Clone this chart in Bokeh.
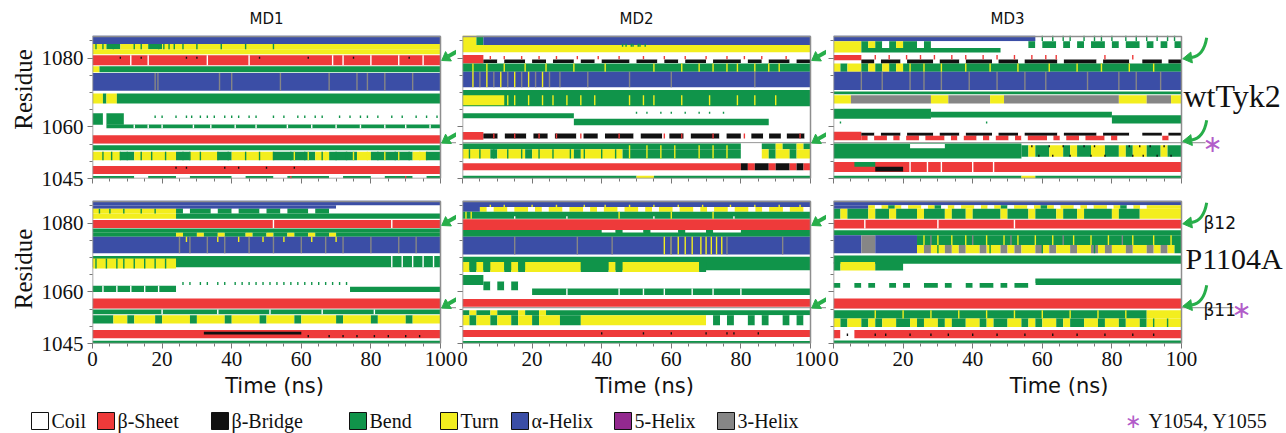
import math
from bokeh.plotting import figure
from bokeh.layouts import row, column
from bokeh.models import Range1d, FixedTicker, ColumnDataSource
from bokeh.core.properties import value
from bokeh.embed import file_html
from bokeh.resources import INLINE

# ---------------- data ----------------
STATE_CODES = ["C", "E", "B", "S", "T", "H", "I", "G"]
STATE_NAMES = ["Coil", "β-Sheet", "β-Bridge", "Bend", "Turn", "α-Helix", "5-Helix", "3-Helix"]
STATE_COLORS = ["#ffffff", "#ee3a3a", "#111111", "#10944a", "#f3ee1e", "#3b4ea6", "#93298f", "#868686"]

RUN_TITLES = ["MD1", "MD2", "MD3"]
SYSTEM_NAMES = ["wtTyk2", "P1104A"]
STRAND_LABELS = ["β12", "β11"]
MARK_NOTE = "Y1054, Y1055"

T_MAX = 100
RES_MIN = 1045
RES_TOP = 1086.3
RES_TICKS = [1045, 1060, 1080]
RES_MINOR = [1045, 1050, 1055, 1060, 1065, 1070, 1075, 1080, 1085]
TIME_TICKS = [0, 20, 40, 60, 80, 100]
TIME_MINOR = [0, 5, 10, 15, 20, 25, 30, 35, 40, 45, 50, 55, 60, 65, 70, 75, 80, 85, 90, 95, 100]
ARROW_RES = [1079.3, 1055.3]
MARK_RES = 1055.4

# bands: (residue_low, residue_high, time pattern); "." = nothing, "X:d" = state X for d ns,
# a multi-letter token spreads its letters evenly over its duration
WT_MD1 = [
    (1084.1, 1086.5, "H:100"),
    (1082.6, 1084.1, "TSTTSTTTTTTTTTTTTTTTTTTTT"),
    (1081.1, 1082.6, "T:100"),
    (1077.9, 1080.8, "E:100"),
    (1075.9, 1077.6, "T:2 S:98"),
    (1070.5, 1075.7, "H:100"),
    (1066.8, 1069.7, "T:3 S:1 T:3 S:93"),
    (1060.6, 1064.0, "S:3 C:1 S:5 .:91"),
    (1059.6, 1060.7, ".:4 S:96"),
    (1055.2, 1057.6, "E:100"),
    (1053.2, 1054.7, "S:100"),
    (1050.3, 1052.8, "TTSTTTSTTSTTTSSSTSSTSSSTS"),
    (1046.3, 1048.6, "E:100"),
    (1045.0, 1045.7, "SSSCSSCSSSCSSCSSSCSSCSSCS"),
]
WT_MD1_FLICK = [
    ("S", 1082.6, 1084.1, [1, 3, 6, 12, 14, 19, 20.5, 22, 23.5, 26, 30, 37, 44, 52]),
    ("G", 1070.5, 1075.7, [18, 18.8, 36.5, 40, 54, 68, 76, 79, 84, 92]),
    ("C", 1077.9, 1080.8, [11, 16, 33, 45, 69, 72, 80, 88, 95]),
    ("B", 1079.8, 1080.4, [8, 14, 27, 30, 48, 62, 75, 91]),
    ("S", 1062.6, 1063.3, [18, 20, 24, 27, 28.5, 31, 33, 35, 38, 40, 42, 45, 47, 52, 55, 59, 61, 64, 66, 71, 74, 77, 79, 82, 86, 89, 93, 96, 99]),
    ("C", 1059.6, 1060.7, [12, 16, 20, 29, 34, 41, 47, 56, 63, 70, 77, 84, 90, 97]),
    ("S", 1050.3, 1052.8, [3, 5.5, 8, 10, 14, 17, 21, 26, 28, 31, 36, 39, 44, 48, 52, 57, 61, 66, 70, 73, 82, 87, 91, 96]),
    ("T", 1050.3, 1052.8, [58, 62, 67, 75, 79, 84, 88, 94]),
    ("B", 1047.8, 1048.4, [24, 27, 38, 42, 50, 58]),
    ("E", 1045.0, 1045.7, [57, 90]),
]

WT_MD2 = [
    (1083.8, 1086.5, "T:4 S:2 H:94"),
    (1081.7, 1083.8, "T:100"),
    (1078.4, 1080.9, "E:6 .:94"),
    (1078.6, 1079.6, ".:6 BBCBBBCBBCBBBCBBCBBBBCBBBCBBCBBBCBBBBCBBCBBBCBB:94"),
    (1076.0, 1078.4, "S:100"),
    (1071.5, 1076.0, "H:100"),
    (1066.0, 1070.7, "S:100"),
    (1066.3, 1069.2, "T:12 .:88"),
    (1062.5, 1064.0, "S:32 .:68"),
    (1060.5, 1062.4, ".:32 S:56 .:12"),
    (1056.3, 1058.5, "E:6 .:94"),
    (1056.6, 1058.1, ".:6 BBCBBBCBBCBBBCBBCBBBBCBBBCBBCBBBBCBB:74 C:3 BBCBBCBBBC:17"),
    (1053.5, 1055.2, "S:80 C:6 S:4 T:2 S:4 T:2 S:2"),
    (1050.8, 1053.5, "TTTTSTTTTSTTTTTTSTTTTTT:46 S:34 C:6 TSTTSTT:14"),
    (1047.4, 1049.4, "E:80 B:2 E:2 B:4 E:2 B:4 E:2 B:2 E:2"),
    (1045.0, 1045.8, "S:50 T:5 S:45"),
]
WT_MD2_FLICK = [
    ("S", 1083.3, 1084.2, [46, 47, 48.5, 49, 50.5, 51, 52.5]),
    ("E", 1079.7, 1080.6, [8, 12, 17, 22, 27, 33, 39, 45, 52, 58, 64, 70, 76, 81, 86, 93]),
    ("T", 1076.0, 1078.4, [3, 7, 12, 18, 24, 32, 41, 55, 63, 68, 72, 76, 79, 84, 88, 91]),
    ("G", 1071.5, 1076.0, [5, 9, 13, 17, 21, 25, 28, 36, 48, 60, 84]),
    ("T", 1071.5, 1076.0, [3, 7, 11, 15, 19, 23]),
    ("T", 1066.3, 1069.2, [13, 15, 19, 23, 26, 30, 34, 38, 48, 52, 55, 63, 71, 79, 84, 90]),
    ("S", 1063.8, 1064.4, [50, 53, 57, 60, 64, 68, 71, 75]),
    ("E", 1056.6, 1058.1, [9, 15, 22, 27, 34, 45, 58, 63, 72, 81, 97]),
    ("S", 1050.8, 1053.5, [2, 5, 9, 13, 17, 22, 26, 31, 35, 40, 44]),
    ("T", 1050.8, 1054.7, [48, 53, 57, 61, 68, 72, 76]),
]

WT_MD3 = [
    (1084.9, 1086.5, "H:58 .:42"),
    (1082.9, 1084.9, "T:8 STSCSTSSCS:20 C:28 SCSSCSCSCSSCSCSSCSCSCS:44"),
    (1081.6, 1082.9, "T:8 S:40 .:52"),
    (1079.4, 1080.9, "E:8 .:92"),
    (1078.4, 1079.6, ".:8 BBCBBBCBBBBCBBBCBBBBCBBBCBBBBBCBBBBBCBBBBCCBBBCBB:92"),
    (1076.0, 1078.4, "T:2 S:2 T:4 S:2 T:2 S:2 T:2 S:2 T:2 S:80"),
    (1070.7, 1076.0, "H:100"),
    (1069.5, 1070.3, "S:100"),
    (1066.8, 1069.2, "T:5 G:23 T:5 G:12 T:4 G:33 T:8 G:7 T:3"),
    (1062.4, 1065.3, "S:28 .:72"),
    (1062.7, 1064.4, ".:28 S:52 .:20"),
    (1061.0, 1063.4, ".:80 S:20"),
    (1056.1, 1058.6, "E:8 .:92"),
    (1057.4, 1058.3, ".:8 BBCBBBCBBBBCBBBCBBBBCBBBCBBBBBCBBBBBCBBBBCCBBBCBB:92"),
    (1056.1, 1057.4, ".:8 ECEECECEECEEECECEECECEECECEEECECEECEEECECCCCCCCECC:92"),
    (1050.8, 1055.2, "S:54 .:46"),
    (1053.8, 1055.0, ".:22 C:10 .:68"),
    (1051.3, 1054.7, ".:54 STSSTTSTSSTTSSTSTTSSTSS:46"),
    (1046.9, 1049.8, "E:100"),
    (1047.0, 1048.4, ".:12 B:8 .:80"),
    (1048.4, 1049.8, ".:6 S:6 .:88"),
    (1045.0, 1045.8, "S:54 T:4 S:42"),
]
WT_MD3_FLICK = [
    ("S", 1085.0, 1086.5, [60, 63, 66, 68, 72, 75, 77, 80, 84, 87, 90, 93, 96, 98]),
    ("E", 1079.6, 1080.9, [12, 16, 21, 25, 29, 34, 38, 43, 47, 52, 57, 61, 64, 78, 86]),
    ("G", 1070.7, 1076.0, [8, 14, 22, 26, 31, 39, 47, 55, 61, 73, 82, 87, 94]),
    ("T", 1076.0, 1078.4, [22, 26, 31, 38, 45, 53, 62, 70, 77, 85, 92]),
    ("B", 1054.1, 1054.7, [57, 62, 66, 72, 75, 85, 88, 91, 95]),
    ("B", 1051.3, 1051.9, [59, 63, 68, 74, 78, 86, 89, 93, 97]),
    ("S", 1061.0, 1061.6, [2, 44]),
    ("C", 1046.9, 1049.8, [22, 27, 31, 40, 46]),
]

MUT_MD1 = [
    (1085.1, 1086.5, "H:100"),
    (1084.2, 1085.1, "H:70 C:30"),
    (1082.8, 1084.2, "T:24 SCSSSCSSCSSSCSSCSSSCSSC:46 C:30"),
    (1081.3, 1082.8, "T:24 S:76"),
    (1078.6, 1080.9, "E:100"),
    (1077.2, 1078.4, "S:100"),
    (1076.0, 1077.2, "S:24 TSSTSSTSSSTSSTSSTSSTSST:46 S:30"),
    (1071.2, 1076.0, "H:100"),
    (1067.2, 1070.4, "S:100"),
    (1066.8, 1069.7, "T:24 .:76"),
    (1060.0, 1061.8, "S:24 .:76"),
    (1060.0, 1061.5, ".:74 S:26"),
    (1055.2, 1058.1, "E:100"),
    (1053.5, 1054.9, "S:100"),
    (1050.8, 1053.2, "SSSTTSTTTSTTTTSTTTTSTTTTSTTTTSTTTTTSTTTTSTTTTSTTTT"),
    (1046.5, 1048.9, "E:100"),
    (1047.6, 1048.4, ".:32 B:28 .:40"),
    (1045.0, 1045.8, "S:100"),
]
MUT_MD1_FLICK = [
    ("S", 1082.8, 1084.2, [2, 5, 9, 14, 18]),
    ("C", 1078.6, 1080.9, [52, 86]),
    ("G", 1071.2, 1076.0, [25, 28, 33, 38, 45, 52, 60, 67, 72, 80, 88, 93]),
    ("T", 1074.5, 1076.0, [27, 36, 42, 49, 55, 63, 70]),
    ("S", 1066.8, 1069.7, [1, 4, 7, 9, 12, 15, 18, 21]),
    ("S", 1062.0, 1062.9, [26, 28, 31, 33, 36, 38, 41, 43, 45, 47, 49, 51, 53, 55, 57, 59, 61, 63, 65, 67, 69, 71, 73]),
    ("C", 1060.0, 1061.8, [3, 7, 11, 15, 19]),
    ("C", 1053.5, 1054.9, [20, 36, 51, 66, 81]),
    ("B", 1046.8, 1047.5, [62, 68, 72, 76, 81, 85, 90, 94]),
    ("C", 1067.2, 1070.4, [86, 89, 92, 95, 98]),
]

MUT_MD2 = [
    (1084.7, 1086.5, "H:100"),
    (1083.3, 1084.7, "H:5 TCTTCTTCTCTTCTTCTCTTCTTCTCTTCTTCTCTTCTTCTCTTCTTC:95"),
    (1081.3, 1083.3, "S:100"),
    (1078.0, 1081.1, "E:100"),
    (1076.0, 1078.0, "S:100"),
    (1077.3, 1078.0, ".:40 CCSCCCSCCCCSCCCSCCCC:40 .:20"),
    (1070.9, 1076.0, "H:100"),
    (1066.3, 1070.2, "S:100"),
    (1065.8, 1068.7, "TSTSTTSTSTTTTTTTTSSSSTSTTTTTTTTTTTS:70 .:30"),
    (1062.0, 1064.9, "S:6 .:94"),
    (1060.5, 1063.0, ".:6 SCSCSCC:14 .:80"),
    (1059.1, 1061.0, ".:20 S:80"),
    (1055.7, 1057.9, "E:100"),
    (1053.2, 1054.7, "STSSTSSSTSSTSS:28 S:72"),
    (1050.3, 1053.2, "TSTTSTTSTTSTTT:28 S:6 T:36 CSCSCCSCSCCSCSC:30"),
    (1046.9, 1048.9, "E:100"),
    (1045.0, 1045.7, "S:100"),
]
MUT_MD2_FLICK = [
    ("T", 1084.7, 1085.3, [8, 12, 20, 27, 35, 41, 48, 55, 62, 69, 77, 84, 91, 97]),
    ("T", 1081.3, 1083.3, [1, 2.5, 45, 60, 72]),
    ("C", 1081.3, 1082.0, [15, 30, 55, 78]),
    ("T", 1070.9, 1076.0, [58, 60, 62, 64, 66, 68.5, 70, 71.5, 73, 74.5]),
    ("G", 1070.9, 1076.0, [15, 33, 43, 60, 76, 92]),
    ("C", 1059.1, 1061.0, [30, 45, 52, 58, 66, 72, 80]),
    ("B", 1047.6, 1048.3, [40, 52, 60, 70, 76, 78, 85]),
]

MUT_MD3 = [
    (1085.2, 1086.5, "H:100"),
    (1084.2, 1085.2, "H:10 TCTSTCTTCTSCTCTTCTCTSCTTCTSTCTTCTCTTCTSCTC:80 T:10"),
    (1081.3, 1084.2, "STSSSTSSTSSSTSSSTSSTSSSSTSSSTSSSTSSTSSSSTSSST:90 T:10"),
    (1078.4, 1081.0, "E:100"),
    (1076.5, 1077.9, "S:100"),
    (1073.6, 1076.5, "H:8 G:4 H:12 S:76"),
    (1071.2, 1073.6, "H:8 G:4 H:12 TGTTGTGTTGTTGTGTTGTGTTGTTGTGTTGTTGTGTS:76"),
    (1068.2, 1070.6, "S:100"),
    (1066.2, 1068.7, "S:2 T:10 S:8 .:80"),
    (1062.0, 1063.9, ".:58 S:42"),
    (1061.2, 1062.6, "SCCSCSCCSCSCCSSCSCCSCSSCSCSSC:58 .:42"),
    (1055.2, 1058.1, "E:100"),
    (1052.3, 1054.7, "S:90 T:10"),
    (1049.8, 1052.3, "TSTTSTSTTSSTSTTSTSSTTSTSSTTSTSTTSTSSTTSTTSTTS:90 T:10"),
    (1046.5, 1048.9, "E:2 C:4 E:94"),
    (1045.0, 1045.9, "S:100"),
]
MUT_MD3_FLICK = [
    ("T", 1073.6, 1076.5, [26, 30, 34, 38, 44, 49, 53, 58, 63, 69, 74, 79, 86, 92, 97]),
    ("G", 1073.6, 1076.5, [28, 40, 51, 66, 83]),
    ("S", 1071.2, 1073.6, [30, 45, 60, 75]),
    ("C", 1078.4, 1081.0, [9, 30, 52]),
    ("B", 1047.2, 1047.9, [4, 12, 15, 22, 28, 33, 40, 47, 55, 63, 70, 78, 86, 92]),
    ("T", 1052.3, 1054.7, [12, 20, 28, 36, 44, 52, 60, 68, 76, 84]),
    ("S", 1049.8, 1052.3, [92, 96]),
]

PANELS = [
    [(WT_MD1, WT_MD1_FLICK), (WT_MD2, WT_MD2_FLICK), (WT_MD3, WT_MD3_FLICK)],
    [(MUT_MD1, MUT_MD1_FLICK), (MUT_MD2, MUT_MD2_FLICK), (MUT_MD3, MUT_MD3_FLICK)],
]

# ---------------- layout / style (pixel positions of the picture) ----------------
TOTAL_W = 1284
PX_NS = 3.48
PX_RES = 3.44
FRAME_W = [364, 364, 451]
BORDER_L = [92, 6, 7]
PANEL_LEFT_PAGE = [92, 462, 833]
FRAME_H = [178, 149]
BORDER_B = [13, 64]
SEP_H = 3
FRAME_BOTTOM_PAGE = [178, 343]
LEGEND_H = 26
GREEN_ARROW = "#27ae4a"
MARK_COLOR = "#b25cc9"
CODE_COLOR = dict(zip(STATE_CODES, STATE_COLORS))
SERIF = "Liberation Serif"
SANS = "DejaVu Sans"


def res_at(r, page_y):
    return RES_MIN + (FRAME_BOTTOM_PAGE[r] - page_y) / PX_RES


def ns_at(c, page_x):
    return (page_x - PANEL_LEFT_PAGE[c]) / PX_NS


def expand(pattern):
    if ":" in pattern:
        parts = []
        for tok in pattern.split():
            chars, d = tok.rsplit(":", 1)
            parts.append((chars, float(d)))
    else:
        parts = [(pattern, float(T_MAX))]
    total = sum(d for _, d in parts)
    segs, t = [], 0.0
    for chars, d in parts:
        d = d * T_MAX / total
        step = d / len(chars)
        for ch in chars:
            if segs and segs[-1][0] == ch:
                segs[-1][2] = t + step
            else:
                segs.append([ch, t, t + step])
            t += step
    return segs


def cell_source(bands, flicks):
    L, R, B, T, C = [], [], [], [], []
    for lo, hi, pat in bands:
        for ch, a, b in expand(pat):
            if ch == ".":
                continue
            L.append(a); R.append(b); B.append(lo); T.append(hi); C.append(CODE_COLOR[ch])
    for ch, lo, hi, times in flicks:
        for t in times:
            L.append(max(0, t - 0.2)); R.append(min(T_MAX, t + 0.2)); B.append(lo); T.append(hi)
            C.append(CODE_COLOR[ch])
    return ColumnDataSource(dict(left=L, right=R, bottom=B, top=T, color=C))


def draw_arrow(p, tip_x, tip_y, tail, ctrl, width, head_len, head_w):
    def to_data(dx, dy):
        return tip_x + dx / PX_NS, tip_y - dy / PX_RES
    ux, uy = -ctrl[0], -ctrl[1]
    n = math.hypot(ux, uy)
    ux, uy = ux / n, uy / n
    base = (-ux * head_len, -uy * head_len)
    perp = (-uy, ux)
    c1 = (base[0] + perp[0] * head_w, base[1] + perp[1] * head_w)
    c2 = (base[0] - perp[0] * head_w, base[1] - perp[1] * head_w)
    x0, y0 = to_data(*tail)
    cx, cy = to_data(*ctrl)
    x1, y1 = to_data(*base)
    p.quadratic(x0=[x0], y0=[y0], x1=[x1], y1=[y1], cx=[cx], cy=[cy],
                line_color=GREEN_ARROW, line_width=width)
    hx = [tip_x, to_data(*c1)[0], to_data(*c2)[0]]
    hy = [tip_y, to_data(*c1)[1], to_data(*c2)[1]]
    p.patch(hx, hy, fill_color=GREEN_ARROW, line_color=GREEN_ARROW, line_width=1)


def add_text(p, x, y, txt, font, size, color="#111111", align="left"):
    p.text(x=[x], y=[y], text=[txt], text_font=value(font), text_font_size=size,
           text_color=color, text_align=align, text_baseline="middle")


def hide_labels(ax):
    ax.major_label_text_color = None
    ax.major_label_text_font_size = "1px"
    ax.major_label_standoff = 0


def make_panel(r, c):
    bands, flicks = PANELS[r][c]
    fw, fh = FRAME_W[c], FRAME_H[r]
    x_end = fw / PX_NS
    p = figure(width=BORDER_L[c] + fw, height=fh + BORDER_B[r],
               x_range=Range1d(0, x_end), y_range=Range1d(RES_MIN, RES_MIN + fh / PX_RES),
               output_backend="svg", toolbar_location=None,
               min_border_left=BORDER_L[c], min_border_right=0, min_border_top=0,
               min_border_bottom=BORDER_B[r], outline_line_color=None,
               background_fill_color="white", border_fill_color="white")
    p.grid.visible = False
    xa, ya = p.xaxis[0], p.yaxis[0]
    xa.ticker = FixedTicker(ticks=TIME_TICKS, minor_ticks=TIME_MINOR)
    ya.ticker = FixedTicker(ticks=RES_TICKS, minor_ticks=RES_MINOR)
    for ax in (xa, ya):
        ax.axis_line_color = None
        ax.major_tick_line_color = "#777777"
        ax.minor_tick_line_color = "#777777"
        ax.major_tick_out = 5
        ax.major_tick_in = 0
        ax.minor_tick_out = 3
        ax.minor_tick_in = 0
        ax.major_label_text_font = SERIF
        ax.major_label_text_font_size = "21px"
        ax.major_label_text_color = "#111111"
    if r == 0:
        hide_labels(xa)
    else:
        xa.major_label_standoff = 3
        xa.axis_label = "Time (ns)"
        xa.axis_label_text_font = SANS
        xa.axis_label_text_font_size = "21px"
        xa.axis_label_text_font_style = "normal"
        xa.axis_label_text_color = "#111111"
        xa.axis_label_standoff = 5
    if c > 0:
        hide_labels(ya)
    else:
        ya.major_label_standoff = 4
        ya.axis_label = "Residue"
        ya.axis_label_text_font = SERIF
        ya.axis_label_text_font_size = "25px"
        ya.axis_label_text_font_style = "normal"
        ya.axis_label_text_color = "#111111"
        ya.axis_label_standoff = 2

    # guide line at Y1054/Y1055
    line_end = x_end if c < 2 else (ns_at(2, 1205) if r == 0 else ns_at(2, 1233))
    p.segment(x0=[0], y0=[MARK_RES], x1=[line_end], y1=[MARK_RES],
              line_color="#8a8a8a", line_width=1)

    p.quad(left="left", right="right", bottom="bottom", top="top", fill_color="color",
           line_color=None, source=cell_source(bands, flicks))
    p.quad(left=[0], right=[T_MAX], bottom=[RES_MIN], top=[RES_TOP], fill_color=None,
           line_color="#8e8e8e", line_width=1.5)

    tip_x = T_MAX + 1.2 / PX_NS
    for res in ARROW_RES:
        if c < 2:
            draw_arrow(p, tip_x, res, tail=(17, -10), ctrl=(8, -5), width=4, head_len=8, head_w=5.5)
        else:
            draw_arrow(p, tip_x, res + 0.5, tail=(24, -21), ctrl=(21, -3), width=3, head_len=9, head_w=5.5)

    if r == 0:
        add_text(p, T_MAX / 2, res_at(0, 18), RUN_TITLES[c], SANS, "15px", align="center")
    if c == 2:
        if r == 0:
            add_text(p, ns_at(2, 1183), res_at(0, 95), SYSTEM_NAMES[0], SERIF, "32px")
            add_text(p, ns_at(2, 1212), res_at(0, 143), "∗", SANS, "24px", color=MARK_COLOR, align="center")
        else:
            add_text(p, ns_at(2, 1203), res_at(1, 222), STRAND_LABELS[0], SANS, "17px")
            add_text(p, ns_at(2, 1185), res_at(1, 258), SYSTEM_NAMES[1], SERIF, "30px")
            add_text(p, ns_at(2, 1203), res_at(1, 309), STRAND_LABELS[1], SANS, "17px")
            add_text(p, ns_at(2, 1241), res_at(1, 309), "∗", SANS, "24px", color=MARK_COLOR, align="center")
    return p


top = [make_panel(0, c) for c in range(3)]
bottom = [make_panel(1, c) for c in range(3)]

# separator line
sep = figure(width=TOTAL_W, height=SEP_H, x_range=Range1d(0, TOTAL_W), y_range=Range1d(0, SEP_H),
             x_axis_type=None, y_axis_type=None, output_backend="svg", toolbar_location=None,
             min_border=0, outline_line_color=None)
sep.segment(x0=[10], y0=[SEP_H / 2], x1=[TOTAL_W], y1=[SEP_H / 2], line_color="black", line_width=3)

# legend row
LEG_BOX_X = [31, 97, 211, 349, 440, 511, 614, 717]
leg = figure(width=TOTAL_W, height=LEGEND_H, x_range=Range1d(0, TOTAL_W), y_range=Range1d(0, LEGEND_H),
             x_axis_type=None, y_axis_type=None, output_backend="svg", toolbar_location=None,
             min_border=0, outline_line_color=None)
leg.quad(left=LEG_BOX_X, right=[x + 17 for x in LEG_BOX_X], bottom=[4] * 8, top=[21] * 8,
         fill_color=STATE_COLORS, line_color="#111111", line_width=1)
leg.text(x=[x + 20 for x in LEG_BOX_X], y=[13] * 8, text=STATE_NAMES, text_font=value(SERIF),
         text_font_size="20px", text_color="#111111", text_baseline="middle", text_align="left")
leg.text(x=[1133], y=[13], text=["∗"], text_font=value(SANS), text_font_size="20px",
         text_color=MARK_COLOR, text_align="center", text_baseline="middle")
leg.text(x=[1148], y=[13], text=[MARK_NOTE], text_font=value(SERIF), text_font_size="20px",
         text_color="#111111", text_baseline="middle", text_align="left")

layout = column(row(*top), sep, row(*bottom), leg)
open("out.html", "w").write(file_html(layout, INLINE))
